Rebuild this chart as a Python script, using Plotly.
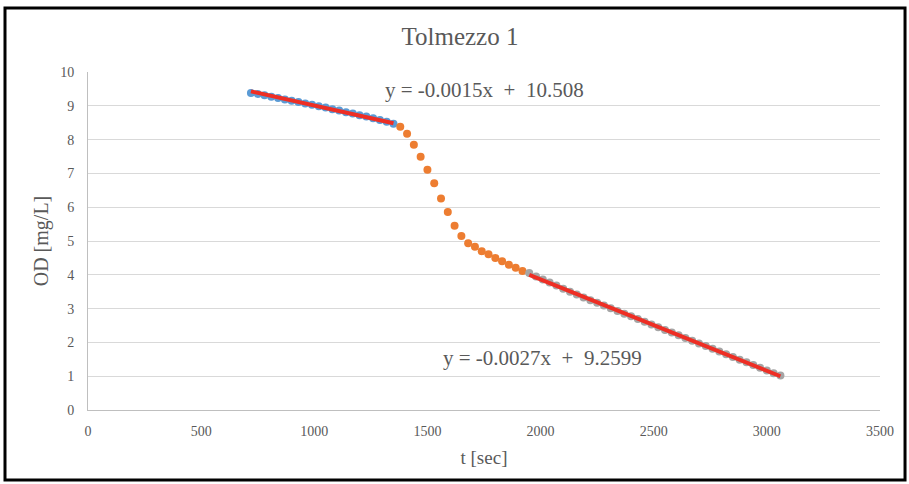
import plotly.graph_objects as go

# Sampling times [s] and dissolved oxygen [mg/L] for the three phases
t_phase1 = [720, 750, 780, 810, 840, 870, 900, 930, 960, 990, 1020, 1050,
            1080, 1110, 1140, 1170, 1200, 1230, 1260, 1290, 1320, 1350]
od_phase1 = [9.38, 9.35, 9.31, 9.27, 9.23, 9.19, 9.15, 9.11, 9.07, 9.03, 8.99,
             8.95, 8.90, 8.86, 8.81, 8.77, 8.72, 8.68, 8.63, 8.58, 8.53, 8.47]

t_phase2 = [1380, 1410, 1440, 1470, 1500, 1530, 1560, 1590, 1620, 1650,
            1680, 1710, 1740, 1770, 1800, 1830, 1860, 1890, 1920]
od_phase2 = [8.38, 8.17, 7.85, 7.49, 7.11, 6.71, 6.26, 5.86, 5.45, 5.15,
             4.93, 4.83, 4.70, 4.61, 4.50, 4.40, 4.30, 4.21, 4.11]

t_phase3 = [1950, 1980, 2010, 2040, 2070, 2100, 2130, 2160, 2190, 2220,
            2250, 2280, 2310, 2340, 2370, 2400, 2430, 2460, 2490, 2520,
            2550, 2580, 2610, 2640, 2670, 2700, 2730, 2760, 2790, 2820,
            2850, 2880, 2910, 2940, 2970, 3000, 3030, 3060]
od_phase3 = [4.05, 3.95, 3.86, 3.77, 3.68, 3.59, 3.50, 3.42, 3.33, 3.25,
             3.17, 3.09, 3.01, 2.93, 2.85, 2.77, 2.69, 2.61, 2.53, 2.45,
             2.37, 2.29, 2.21, 2.13, 2.05, 1.97, 1.89, 1.81, 1.73, 1.65,
             1.57, 1.49, 1.41, 1.33, 1.25, 1.17, 1.09, 1.02]

# Linear trend coefficients (slope, intercept)
trend1 = (-0.0015, 10.508)
trend2 = (-0.0027, 9.2599)

x_ticks = [0, 500, 1000, 1500, 2000, 2500, 3000, 3500]
y_ticks = [0, 1, 2, 3, 4, 5, 6, 7, 8, 9, 10]

FONT = "Liberation Serif"
TICK_COLOR = "#595959"


def trend_xy(ts, coef):
    xs = [min(ts), max(ts)]
    return xs, [coef[0] * x + coef[1] for x in xs]


def eq_text(coef):
    return f"y = {coef[0]}x  +  {coef[1]}"


fig = go.Figure()

fig.add_trace(go.Scatter(x=t_phase1, y=od_phase1, mode="markers",
                         marker=dict(color="#5B9BD5", size=8), showlegend=False))
fig.add_trace(go.Scatter(x=t_phase2, y=od_phase2, mode="markers",
                         marker=dict(color="#ED7D31", size=8), showlegend=False))
fig.add_trace(go.Scatter(x=t_phase3, y=od_phase3, mode="markers",
                         marker=dict(color="#A5A5A5", size=8), showlegend=False))

for ts, coef in [(t_phase1, trend1), (t_phase3, trend2)]:
    xs, ys = trend_xy(ts, coef)
    fig.add_trace(go.Scatter(x=xs, y=ys, mode="lines",
                             line=dict(color="#EE2E24", width=4),
                             showlegend=False))

fig.add_annotation(x=1752, y=9.47, text=eq_text(trend1), showarrow=False,
                   font=dict(family=FONT, size=21, color=TICK_COLOR))
fig.add_annotation(x=2010, y=1.54, text=eq_text(trend2), showarrow=False,
                   font=dict(family=FONT, size=21, color=TICK_COLOR))

# Outer chart frame
fig.add_shape(type="rect", xref="paper", yref="paper",
              x0=-0.1048, x1=1.0316, y0=-0.207, y1=1.189,
              line=dict(color="black", width=3), layer="above")

fig.update_layout(
    width=909, height=484,
    margin=dict(l=88, r=29, t=72, b=74),
    paper_bgcolor="white", plot_bgcolor="white",
    title=dict(text="Tolmezzo 1", x=0.506, xref="container", y=0.925,
               yref="container", xanchor="center", yanchor="middle",
               font=dict(family=FONT, size=25, color=TICK_COLOR)),
    xaxis=dict(range=[0, 3500], tickvals=x_ticks, showgrid=False,
               showline=True, linecolor="#BFBFBF", linewidth=1,
               zeroline=False, ticks="", ticklabelstandoff=8,
               tickfont=dict(family=FONT, size=14, color=TICK_COLOR),
               title=dict(text="t [sec]", standoff=12,
                          font=dict(family=FONT, size=19, color=TICK_COLOR))),
    yaxis=dict(range=[0, 10], tickvals=y_ticks, showgrid=True,
               gridcolor="#D9D9D9", gridwidth=1,
               showline=True, linecolor="#BFBFBF", linewidth=1,
               zeroline=False, ticks="", ticklabelstandoff=10,
               tickfont=dict(family=FONT, size=14, color=TICK_COLOR),
               title=dict(text="OD [mg/L]", standoff=6,
                          font=dict(family=FONT, size=20, color=TICK_COLOR))),
)

fig.write_html("out.html")
